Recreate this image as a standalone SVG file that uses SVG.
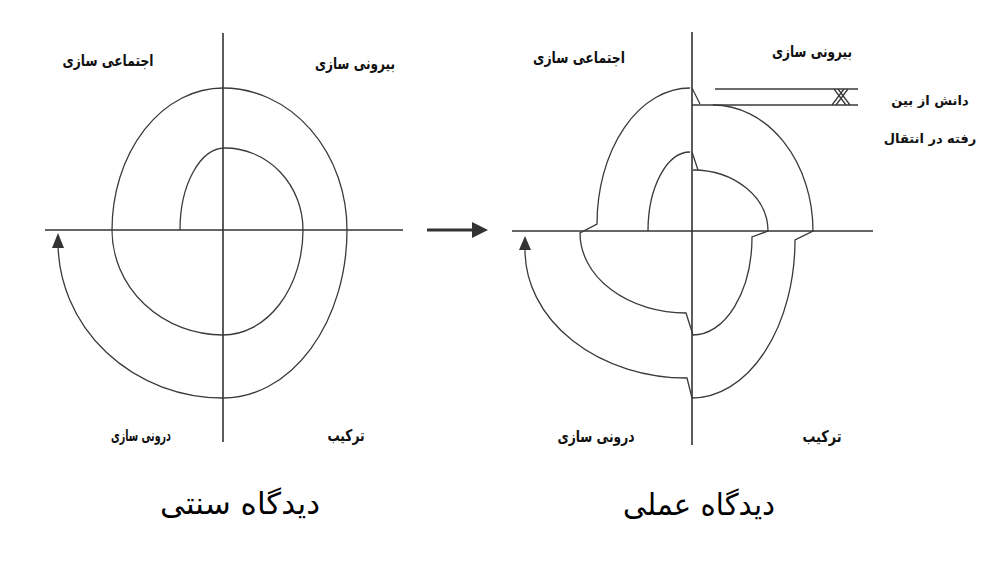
<svg xmlns="http://www.w3.org/2000/svg" width="985" height="567" viewBox="0 0 985 567">
<style>
.ax{stroke:#333;stroke-width:1.6;fill:none}
.ln{stroke:#3a3a3a;stroke-width:1.3;fill:none}
.lb{font-family:"DejaVu Sans","Noto Sans",sans-serif;font-size:16px;font-weight:bold;fill:#111}
.sm{font-family:"DejaVu Sans","Noto Sans",sans-serif;font-size:13px;font-weight:bold;fill:#111}
.tt{font-family:"DejaVu Sans","Noto Sans",sans-serif;font-size:30px;fill:#000}
.ah{fill:#333}
</style>
<rect width="985" height="567" fill="#fff"/>
<g id="traditional">
<line class="ax" x1="223" y1="33" x2="223" y2="442"/>
<line class="ax" x1="45" y1="230" x2="403" y2="230"/>
<path class="ln" d="M180,230 A45,82 0 0 1 225,148 A78,82 0 0 1 303,230 A80,105 0 0 1 223,335 A111,105 0 0 1 112,230 A111,142 0 0 1 223,88 A124,142 0 0 1 347,230 A124,168 0 0 1 223,398 A165,156 0 0 1 58,242"/>
<polygon class="ah" points="58,233 52,248 64,248"/>
<text class="lb" x="108" y="66" text-anchor="middle" direction="rtl" textLength="91" lengthAdjust="spacingAndGlyphs">اجتماعی سازی</text>
<text class="lb" x="355" y="69" text-anchor="middle" direction="rtl" textLength="80" lengthAdjust="spacingAndGlyphs">بیرونی سازی</text>
<text class="lb" x="141" y="441" text-anchor="middle" direction="rtl" textLength="60" lengthAdjust="spacingAndGlyphs">درونی سازی</text>
<text class="lb" x="346" y="441" text-anchor="middle" direction="rtl" textLength="37" lengthAdjust="spacingAndGlyphs">ترکیب</text>
<text class="tt" x="240" y="514" text-anchor="middle" direction="rtl" textLength="160" lengthAdjust="spacingAndGlyphs">دیدگاه سنتی</text>
</g>
<g id="transition">
<line x1="427" y1="230" x2="474" y2="230" stroke="#333" stroke-width="3.2"/>
<polygon class="ah" points="472,222 488,230 472,238"/>
</g>
<g id="practical">
<line class="ax" x1="692" y1="32" x2="692" y2="445"/>
<line class="ax" x1="512" y1="231" x2="873" y2="231"/>
<path class="ln" d="M648,231 A42,79 0 0 1 690,152"/>
<path class="ln" d="M692,152 L698,170"/>
<path class="ln" d="M693,170 A75,61 0 0 1 768,231 L752,237 A59,98 0 0 1 693,335 L686,313 A106,80 0 0 1 580,233 L597,224 A93,136 0 0 1 690,88"/>
<path class="ln" d="M692,88 L700,104"/>
<line class="ln" x1="692" y1="105" x2="858" y2="105"/>
<line class="ln" x1="715" y1="89" x2="858" y2="89"/>
<path class="ln" d="M834,89 L846,105 M838,89 L850,105 M848,89 L836,105 M844,89 L832,105"/>
<path class="ln" d="M713,105 A100,126 0 0 1 813,231 L795,240 A103,158 0 0 1 692,398 L687,378 A162,128 0 0 1 525,250"/>
<polygon class="ah" points="525,236 519,250 531,250"/>
<text class="lb" x="579" y="63" text-anchor="middle" direction="rtl" textLength="92" lengthAdjust="spacingAndGlyphs">اجتماعی سازی</text>
<text class="lb" x="812" y="57" text-anchor="middle" direction="rtl" textLength="80" lengthAdjust="spacingAndGlyphs">بیرونی سازی</text>
<text class="sm" x="930" y="105" text-anchor="middle" direction="rtl">دانش از بین</text>
<text class="sm" x="930" y="143" text-anchor="middle" direction="rtl">رفته در انتقال</text>
<text class="lb" x="596" y="442" text-anchor="middle" direction="rtl" textLength="77" lengthAdjust="spacingAndGlyphs">درونی سازی</text>
<text class="lb" x="822" y="442" text-anchor="middle" direction="rtl" textLength="39" lengthAdjust="spacingAndGlyphs">ترکیب</text>
<text class="tt" x="699" y="515" text-anchor="middle" direction="rtl" textLength="152" lengthAdjust="spacingAndGlyphs">دیدگاه عملی</text>
</g>
</svg>
